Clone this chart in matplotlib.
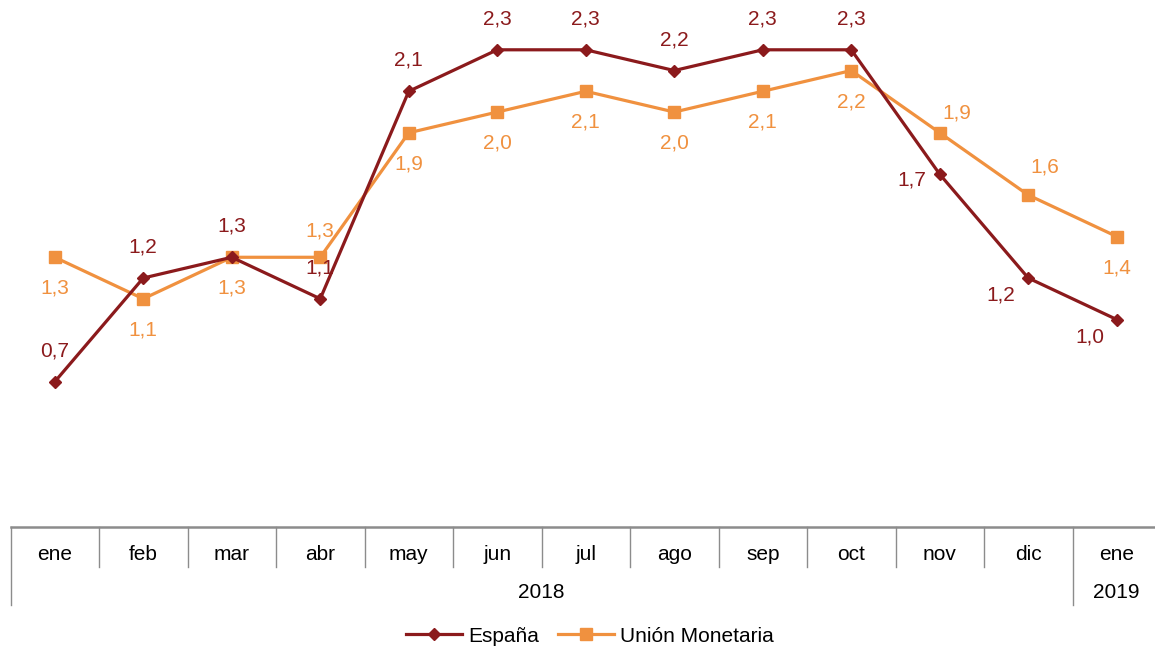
import numpy as np
import matplotlib.pyplot as plt
from matplotlib.lines import Line2D

plt.rcParams['font.family'] = ['Liberation Sans', 'DejaVu Sans']

meses = ['ene', 'feb', 'mar', 'abr', 'may', 'jun', 'jul', 'ago', 'sep', 'oct', 'nov', 'dic', 'ene']
anios = ['2018', '2019']
espana = [0.7, 1.2, 1.3, 1.1, 2.1, 2.3, 2.3, 2.2, 2.3, 2.3, 1.7, 1.2, 1.0]
union = [1.3, 1.1, 1.3, 1.3, 1.9, 2.0, 2.1, 2.0, 2.1, 2.2, 1.9, 1.6, 1.4]

c_esp = '#8B1A1C'
c_um = '#F0913F'
c_grid = '#8C8C8C'
fs = 15

fig = plt.figure(figsize=(11.55, 6.48), dpi=100)
# la tabla sigue un poco mas alla del borde derecho, como en el original
ax = fig.add_axes([10.5/1155, 121/648, 1150.5/1155, 527/648])

x = np.arange(len(meses))
ax.plot(x, espana, color=c_esp, lw=2.3, marker='D', ms=6.5, zorder=3)
ax.plot(x, union, color=c_um, lw=2.3, marker='s', ms=8.5, zorder=2)

# etiquetas de datos (offsets en pixeles)
off_esp = [(0, 31)] * 10 + [(-28, -6), (-28, -17), (-27, -17)]
off_um = [(0, -31)] * 3 + [(0, 26)] + [(0, -31)] * 6 + [(17, 20), (17, 28), (0, -31)]
for i in range(len(x)):
    ax.annotate(f'{espana[i]:.1f}'.replace('.', ','), (x[i], espana[i]),
                xytext=off_esp[i], textcoords='offset pixels',
                ha='center', va='center', color=c_esp, fontsize=fs)
    ax.annotate(f'{union[i]:.1f}'.replace('.', ','), (x[i], union[i]),
                xytext=off_um[i], textcoords='offset pixels',
                ha='center', va='center', color=c_um, fontsize=fs)

ax.set_xlim(-0.5, 12.5)
ax.set_ylim(0, 2.54)
ax.axis('off')

# tabla del eje x
tr = ax.get_xaxis_transform()
r1 = -40 / 527
r2 = -78 / 527
ax.plot([-0.5, 12.5], [0, 0], transform=tr, color=c_grid, lw=1.8, clip_on=False)
ax.plot([-0.5, -0.5], [0, r2], transform=tr, color=c_grid, lw=1, clip_on=False)
ax.plot([11.5, 11.5], [0, r2], transform=tr, color=c_grid, lw=1, clip_on=False)
for i in range(len(meses)):
    if 0 < i < 12:
        ax.plot([i - 0.5, i - 0.5], [0, r1], transform=tr, color=c_grid, lw=1, clip_on=False)
    ax.text(i, -27 / 527, meses[i], transform=tr, ha='center', va='center', fontsize=fs)
ax.text(5.5, -65 / 527, anios[0], transform=tr, ha='center', va='center', fontsize=fs)
ax.text(12, -65 / 527, anios[1], transform=tr, ha='center', va='center', fontsize=fs)

handles = [Line2D([], [], color=c_esp, lw=2.3, marker='D', ms=6.5),
           Line2D([], [], color=c_um, lw=2.3, marker='s', ms=8.5)]
fig.legend(handles, ['España', 'Unión Monetaria'], loc='center', bbox_to_anchor=(590/1155, 1 - 636/648),
           ncol=2, frameon=False, fontsize=fs, handlelength=2.7, handletextpad=0.3, columnspacing=0.9)

fig.savefig('out.png', dpi=100)
